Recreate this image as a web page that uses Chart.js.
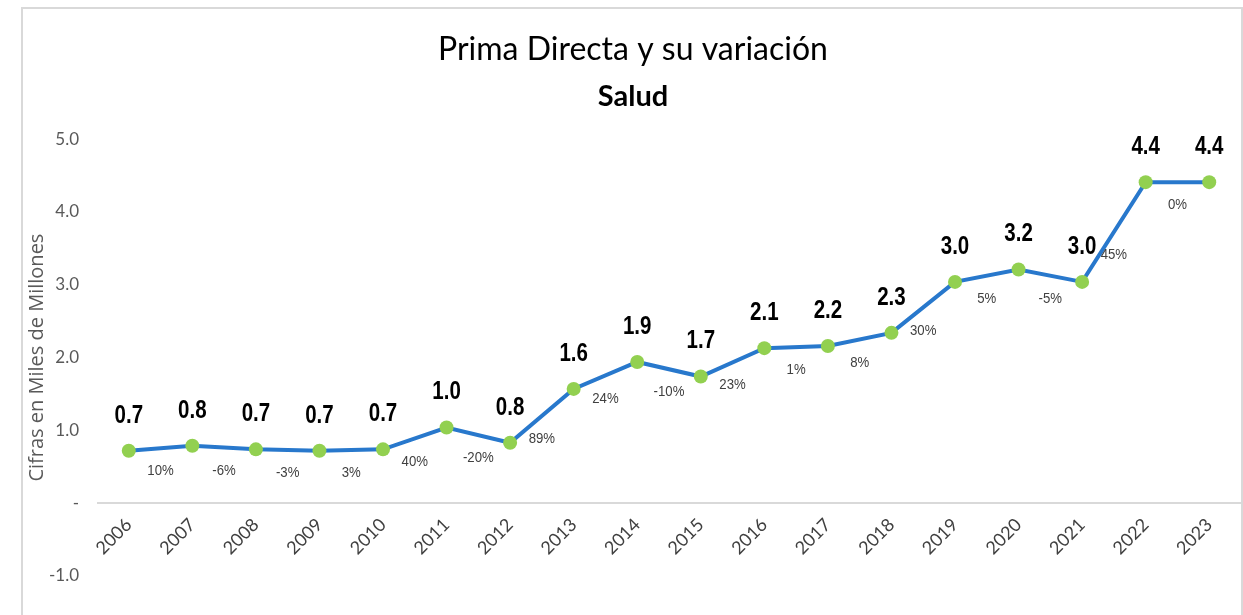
<!DOCTYPE html>
<html><head><meta charset="utf-8">
<script src="https://cdn.jsdelivr.net/npm/chart.js@4.4.0/dist/chart.umd.min.js"></script>
<style>
html,body{margin:0;padding:0;background:#fff;}
#wrap{position:relative;width:1243px;height:615px;overflow:hidden;}
#frame{position:absolute;left:21px;top:7px;width:1222px;height:640px;border-left:2px solid #d9d9d9;border-top:2px solid #d9d9d9;border-right:2px solid #d9d9d9;box-sizing:border-box;}
canvas{position:absolute;left:0;top:0;}
</style></head>
<body><div id="wrap"><div id="frame"></div><canvas id="c" width="1243" height="615"></canvas></div>
<script>
// ---- data ----
const years = ["2006","2007","2008","2009","2010","2011","2012","2013","2014","2015","2016","2017","2018","2019","2020","2021","2022","2023"];
const primaDirecta = [0.72,0.79,0.74,0.72,0.74,1.04,0.83,1.57,1.94,1.74,2.13,2.16,2.34,3.04,3.21,3.04,4.41,4.41];
const variacion = ["10%","-6%","-3%","3%","40%","-20%","89%","24%","-10%","23%","1%","8%","30%","5%","-5%","45%","0%"];
const yMin = -1, yMax = 5, yStep = 1;

const FONT = 'Lato, "Open Sans", sans-serif';
const LAB = '"Liberation Sans", Arial, sans-serif';

function narrowText(ctx, text, x, y, sx) {
  ctx.save();
  ctx.translate(x, y);
  ctx.scale(sx, 1);
  ctx.fillText(text, 0, 0);
  ctx.restore();
}

const labelPlugin = {
  id: 'labelPlugin',
  afterDatasetsDraw(chart) {
    const ctx = chart.ctx;
    const pts = chart.getDatasetMeta(0).data;
    ctx.save();
    ctx.textAlign = 'center';
    ctx.textBaseline = 'middle';
    ctx.fillStyle = '#000';
    ctx.font = 'bold 25px ' + LAB;
    pts.forEach((p, i) => {
      narrowText(ctx, primaDirecta[i].toFixed(1), p.x, p.y - 35, 0.82);
    });
    ctx.font = '15px ' + LAB;
    ctx.fillStyle = '#404040';
    for (let i = 0; i < variacion.length; i++) {
      const a = pts[i], b = pts[i + 1];
      narrowText(ctx, variacion[i], (a.x + b.x) / 2, (a.y + b.y) / 2 + 23, 0.88);
    }
    ctx.restore();
  }
};

new Chart(document.getElementById('c'), {
  type: 'line',
  data: {
    labels: years,
    datasets: [{
      data: primaDirecta,
      borderColor: '#2878CC',
      borderWidth: 4,
      backgroundColor: '#92D050',
      pointBackgroundColor: '#92D050',
      pointBorderWidth: 0,
      pointRadius: 7,
      tension: 0
    }]
  },
  options: {
    responsive: false,
    devicePixelRatio: 1,
    animation: false,
    layout: { autoPadding: false, padding: { left: 25, right: 2, top: 8, bottom: 39 } },
    plugins: {
      legend: { display: false },
      tooltip: { enabled: false },
      title: {
        display: true,
        text: 'Prima Directa y su variación',
        color: '#000',
        font: { family: FONT, size: 32, weight: 'normal', lineHeight: 1.2 },
        padding: { top: 22, bottom: 11 }
      },
      subtitle: {
        display: true,
        text: 'Salud',
        color: '#000',
        font: { family: FONT, size: 29, weight: 'bold', lineHeight: 1.2 },
        padding: { top: 0, bottom: 25 }
      }
    },
    scales: {
      x: {
        type: 'category',
        offset: true,
        position: { y: 0 },
        afterFit(s) { s.paddingLeft = 0; s.paddingRight = 0; },
        grid: { display: false, drawTicks: false },
        border: { display: false },
        ticks: {
          minRotation: 45, maxRotation: 45, autoSkip: false,
          padding: 11,
          color: '#404040',
          font: { family: FONT, size: 18 }
        }
      },
      y: {
        min: yMin, max: yMax,
        afterFit(s) { s.width = 72; },
        grid: {
          drawTicks: false,
          lineWidth: 2,
          color: (c) => (c.tick && c.tick.value === 0) ? '#d9d9d9' : 'rgba(0,0,0,0)'
        },
        border: { display: false },
        ticks: {
          stepSize: yStep,
          padding: 18,
          color: '#595959',
          font: { family: FONT, size: 17 },
          callback: (v) => v === 0 ? '-' : Number(v).toFixed(1)
        },
        title: {
          display: true,
          text: 'Cifras en Miles de Millones',
          color: '#595959',
          font: { family: '"Open Sans", sans-serif', size: 20 },
          padding: { top: 0, bottom: 0 }
        }
      }
    }
  },
  plugins: [labelPlugin]
});
</script>
</body></html>
